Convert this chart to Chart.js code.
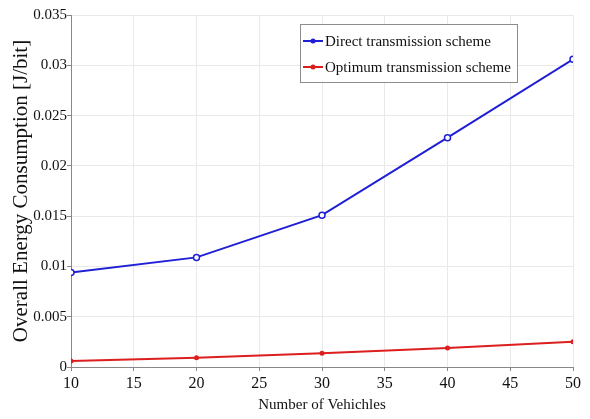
<!DOCTYPE html>
<html>
<head>
<meta charset="utf-8">
<script src="https://cdn.jsdelivr.net/npm/chart.js@4/dist/chart.umd.min.js"></script>
<style>
  html, body { margin: 0; padding: 0; background: #fff; }
  canvas { display: block; }
</style>
</head>
<body>
<canvas id="chart" width="590" height="419"></canvas>
<script>
// Number of vehicles on the x axis
var vehicles = [10, 20, 30, 40, 50];
// Overall energy consumption [J/bit]
var directScheme = [0.0094, 0.0109, 0.0151, 0.0228, 0.0306];
var optimumScheme = [0.0006, 0.00093, 0.00137, 0.0019, 0.0025];
var seriesNames = ["Direct transmission scheme", "Optimum transmission scheme"];

var SERIF = "'Liberation Serif', 'Times New Roman', serif";

function toPoints(values) {
  return vehicles.map(function (v, i) {
    return { x: v, y: values[i] };
  });
}

// Legend box drawn inside the plot, MATLAB style
var boxLegend = {
  id: "boxLegend",
  afterDatasetsDraw: function (chart) {
    var ctx = chart.ctx;
    var x = 300, y = 24, w = 217, h = 58;
    ctx.save();
    ctx.fillStyle = "#fff";
    ctx.fillRect(x, y, w, h);
    ctx.strokeStyle = "#8c8c8c";
    ctx.lineWidth = 1;
    ctx.strokeRect(x + 0.5, y + 0.5, w, h);
    ctx.font = "15px " + SERIF;
    ctx.textBaseline = "middle";
    chart.data.datasets.forEach(function (ds, i) {
      var cy = y + 17 + i * 26;
      ctx.strokeStyle = ds.borderColor;
      ctx.lineWidth = 2;
      ctx.beginPath();
      ctx.moveTo(x + 3, cy);
      ctx.lineTo(x + 23, cy);
      ctx.stroke();
      ctx.fillStyle = ds.borderColor;
      ctx.beginPath();
      ctx.arc(x + 13, cy, 2.5, 0, Math.PI * 2);
      ctx.fill();
      ctx.fillStyle = "#111";
      ctx.fillText(ds.label, x + 25, cy + 1);
    });
    ctx.restore();
  }
};

new Chart(document.getElementById("chart"), {
  type: "line",
  data: {
    datasets: [
      {
        label: seriesNames[0],
        data: toPoints(directScheme),
        borderColor: "#1f1fd6",
        backgroundColor: "#ffffff",
        borderWidth: 2,
        pointRadius: 3,
        pointBorderWidth: 1.5,
        pointBorderColor: "#1f1fd6",
        tension: 0
      },
      {
        label: seriesNames[1],
        data: toPoints(optimumScheme),
        borderColor: "#dc1e1e",
        backgroundColor: "#dc1e1e",
        borderWidth: 2,
        pointRadius: 2.5,
        pointBorderWidth: 0,
        tension: 0
      }
    ]
  },
  options: {
    responsive: false,
    animation: false,
    layout: { padding: { top: 15, right: 17, bottom: 0, left: 0 } },
    plugins: {
      legend: { display: false },
      tooltip: { enabled: false }
    },
    scales: {
      x: {
        type: "linear",
        min: 10,
        max: 50,
        ticks: {
          stepSize: 5,
          color: "#111",
          padding: 3,
          font: { family: SERIF, size: 16 }
        },
        grid: { color: "#e9e9e9", tickColor: "#888", tickLength: 4 },
        border: { color: "#888" },
        title: {
          display: true,
          text: "Number of Vehichles",
          color: "#111",
          font: { family: SERIF, size: 15 },
          padding: { top: 0, bottom: 5 }
        },
        afterFit: function (scale) { scale.height = 52; }
      },
      y: {
        min: 0,
        max: 0.035,
        ticks: {
          stepSize: 0.005,
          color: "#111",
          padding: 0,
          font: { family: SERIF, size: 15 },
          callback: function (v) { return String(+v.toFixed(3)); }
        },
        grid: { color: "#e9e9e9", tickColor: "#888", tickLength: 4 },
        border: { color: "#888" },
        title: {
          display: true,
          text: "Overall Energy Consumption [J/bit]",
          color: "#111",
          font: { family: SERIF, size: 21 },
          padding: { top: 9, bottom: 0 }
        },
        afterFit: function (scale) { scale.width = 71; }
      }
    }
  },
  plugins: [boxLegend]
});
</script>
</body>
</html>
